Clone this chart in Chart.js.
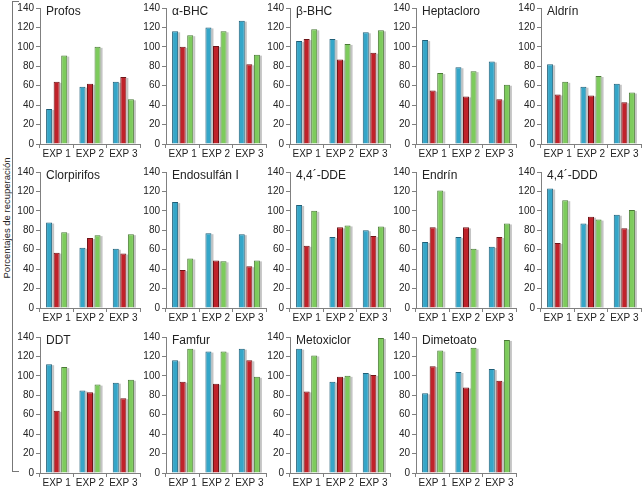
<!DOCTYPE html>
<html>
<head>
<meta charset="utf-8">
<script src="https://cdn.jsdelivr.net/npm/chart.js@4.4.1/dist/chart.umd.min.js"></script>
<style>
  html, body { margin: 0; padding: 0; background: #fff; }
  #wrap { position: relative; width: 643px; height: 486px; overflow: hidden; font-family: "Liberation Sans", Arial, sans-serif; }
  .cell { position: absolute; }
  #ylabel {
    position: absolute; left: 6px; top: 218px; white-space: nowrap;
    font-size: 9.5px; color: #222;
    transform: translate(-50%, -50%) rotate(-90deg);
  }
  #bracket {
    position: absolute; left: 12px; top: 1px; width: 6px; height: 469px;
    border: 1px solid #777; border-right: none;
  }
</style>
</head>
<body>
<div id="wrap">
  <div id="bracket"></div>
  <div id="ylabel">Porcentajes de recuperación</div>
</div>
<script>
const compounds = ['Profos', 'α-BHC', 'β-BHC', 'Heptacloro', 'Aldrín',
                   'Clorpirifos', 'Endosulfán I', '4,4´-DDE', 'Endrín', '4,4´-DDD',
                   'DDT', 'Famfur', 'Metoxiclor', 'Dimetoato'];
const experiments = ['EXP 1', 'EXP 2', 'EXP 3'];
const yTicks = [0, 20, 40, 60, 80, 100, 120, 140];

// one entry per compound: values for EXP 1, EXP 2, EXP 3
const blueVals = [
  [36, 59, 64], [116, 120, 127], [106, 108, 115], [107, 79, 85], [82, 59, 62],
  [88, 62, 61], [109, 77, 76], [106, 73, 80], [68, 73, 63], [123, 87, 96],
  [112, 85, 93], [116, 125, 128], [128, 94, 103], [82, 104, 107]
];
const redVals = [
  [64, 62, 69], [100, 101, 82], [108, 87, 94], [55, 49, 46], [51, 50, 43],
  [57, 72, 56], [39, 49, 43], [64, 83, 74], [83, 83, 73], [67, 94, 82],
  [64, 83, 77], [94, 92, 116], [84, 99, 101], [110, 88, 95]
];
const greenVals = [
  [91, 100, 46], [112, 116, 92], [118, 103, 117], [73, 75, 61], [64, 70, 53],
  [78, 75, 76], [51, 48, 49], [100, 85, 84], [121, 61, 87], [111, 91, 101],
  [109, 91, 96], [128, 125, 99], [121, 100, 139], [126, 129, 137]
];

const axisX = [40, 166, 290, 416, 541];
const zeroY = [144, 308, 473];
const YW = 30, PW = 100, PH = 138, PAD_TOP = 6, XH = 16;
const axisColor = '#808080';
const textColor = '#222';

// grey shade on the right of each bar
const shadePlugin = {
  id: 'shade',
  beforeDatasetsDraw(chart) {
    const ctx = chart.ctx;
    ctx.save();
    ctx.fillStyle = '#c4c4c4';
    chart.data.datasets.forEach((ds, i) => {
      chart.getDatasetMeta(i).data.forEach(bar => {
        const p = bar.getProps(['x', 'y', 'base', 'width'], true);
        ctx.fillRect(p.x + p.width / 2, p.y + 1, 2, p.base - p.y - 1);
      });
    });
    ctx.restore();
  }
};

const innerTitle = {
  id: 'innerTitle',
  afterDraw(chart, args, opts) {
    const ctx = chart.ctx;
    ctx.save();
    ctx.font = '12px "Liberation Sans", Arial, sans-serif';
    ctx.fillStyle = textColor;
    ctx.textBaseline = 'middle';
    ctx.fillText(opts.text, chart.chartArea.left + 6, chart.chartArea.top + 4);
    ctx.restore();
  }
};

const wrap = document.getElementById('wrap');

compounds.forEach((name, i) => {
  const row = Math.floor(i / 5), col = i % 5;
  const cell = document.createElement('div');
  cell.className = 'cell';
  const w = YW + PW + 4, h = PAD_TOP + PH + XH;
  cell.style.left = (axisX[col] - YW) + 'px';
  cell.style.top = (zeroY[row] - PH - PAD_TOP) + 'px';
  const canvas = document.createElement('canvas');
  canvas.width = w;
  canvas.height = h;
  cell.appendChild(canvas);
  wrap.appendChild(cell);

  new Chart(canvas.getContext('2d'), {
    type: 'bar',
    data: {
      labels: experiments,
      datasets: [
        { data: blueVals[i], backgroundColor: '#35a6c8', borderColor: '#1f5f78' },
        { data: redVals[i], backgroundColor: '#c0222a', borderColor: '#6e1518' },
        { data: greenVals[i], backgroundColor: '#7dcb5c', borderColor: '#4a7a36' }
      ]
    },
    options: {
      responsive: false,
      animation: false,
      devicePixelRatio: 1,
      layout: { padding: { top: PAD_TOP, right: 4, left: 0, bottom: 0 } },
      datasets: {
        bar: { borderWidth: 1, borderSkipped: 'bottom', barPercentage: 0.8, categoryPercentage: 0.68 }
      },
      plugins: {
        legend: { display: false },
        tooltip: { enabled: false },
        innerTitle: { text: name }
      },
      scales: {
        x: {
          afterFit: s => { s.height = XH; },
          grid: { drawOnChartArea: false, drawTicks: true, tickLength: 4, offset: true, color: axisColor },
          border: { display: true, color: axisColor },
          ticks: { color: textColor, font: { size: 10, family: '"Liberation Sans", Arial, sans-serif' }, padding: 0, maxRotation: 0 }
        },
        y: {
          min: 0, max: 140,
          afterFit: s => { s.width = YW; },
          afterBuildTicks: s => { s.ticks = yTicks.map(v => ({ value: v })); },
          grid: { drawOnChartArea: false, drawTicks: true, tickLength: 4, color: axisColor },
          border: { display: true, color: axisColor },
          ticks: { color: textColor, font: { size: 10, family: '"Liberation Sans", Arial, sans-serif' }, padding: 2 }
        }
      }
    },
    plugins: [shadePlugin, innerTitle]
  });
});
</script>
</body>
</html>
